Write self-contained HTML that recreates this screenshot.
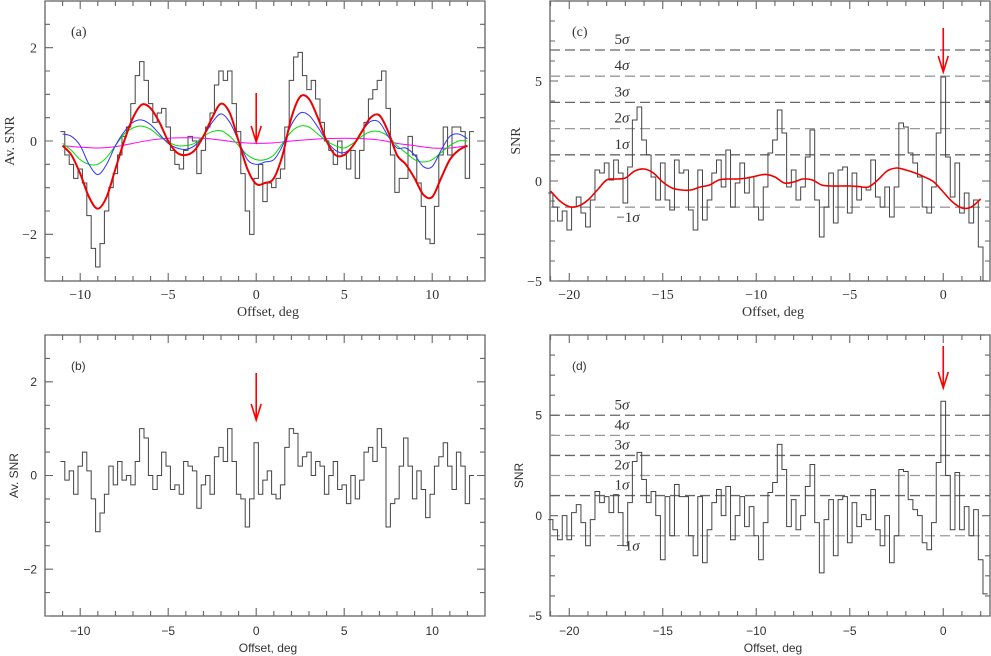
<!DOCTYPE html>
<html><head><meta charset="utf-8"><style>
body{margin:0;background:#fff}
svg{display:block}
.ser{font-family:"Liberation Serif","DejaVu Serif",serif}
.sans{font-family:"Liberation Sans","DejaVu Sans",sans-serif}
</style></head><body>
<svg id="fig" width="991" height="656" viewBox="0 0 991 656" xmlns="http://www.w3.org/2000/svg"></svg>
<script>
// ---------- data ----------
const aX0=-11, aStep=0.25;
const aSeries=[0.2,-0.3,-0.5,-0.8,-0.6,-0.9,-1.6,-2.3,-2.7,-2.2,-1.5,-1.0,-0.7,-0.3,0.1,0.3,0.8,1.4,1.7,1.3,0.8,0.4,0.6,0.7,0.3,-0.2,-0.5,-0.6,-0.2,0.1,0.0,-0.7,-0.2,0.3,0.6,1.2,1.5,1.3,1.5,0.8,0.2,-0.7,-1.5,-2.0,-0.8,-0.5,-1.3,-0.9,-1.0,-0.8,-0.6,0.3,1.3,1.8,1.9,1.4,1.1,1.3,0.9,0.4,0.0,-0.2,-0.5,0.0,-0.3,-0.6,-0.2,-0.8,-0.2,0.4,0.9,1.1,1.3,1.5,0.7,-0.3,-1.1,-0.8,-0.8,0.1,-0.3,-0.9,-1.4,-2.1,-2.2,-1.4,-0.3,0.3,-0.3,0.3,0.3,0.2,-0.8,0.2];
const smX0=-11, smStep=0.5;
const aRed=[-0.1,-0.3,-0.7,-1.2,-1.45,-1.2,-0.6,0.0,0.5,0.78,0.7,0.4,0.0,-0.25,-0.3,-0.2,0.1,0.5,0.8,0.6,0.0,-0.6,-0.92,-0.9,-0.8,-0.3,0.5,0.95,0.9,0.5,0.0,-0.3,-0.3,-0.1,0.2,0.5,0.55,0.2,-0.3,-0.5,-0.8,-1.15,-1.2,-0.8,-0.4,-0.2,-0.1];
const aBlue=[0.15,0.1,-0.1,-0.5,-0.72,-0.5,-0.1,0.2,0.4,0.45,0.35,0.15,-0.05,-0.15,-0.18,-0.1,0.1,0.4,0.58,0.4,0.0,-0.4,-0.5,-0.45,-0.4,-0.1,0.35,0.6,0.55,0.3,0.0,-0.2,-0.25,-0.1,0.2,0.42,0.4,0.1,-0.15,-0.15,-0.3,-0.55,-0.55,-0.2,0.1,0.15,0.05];
const aGreen=[-0.05,-0.2,-0.4,-0.5,-0.5,-0.35,-0.1,0.15,0.28,0.32,0.25,0.1,-0.02,-0.1,-0.1,-0.05,0.1,0.2,0.22,0.1,-0.1,-0.3,-0.4,-0.4,-0.3,-0.05,0.2,0.32,0.3,0.15,0.0,-0.1,-0.15,-0.05,0.1,0.2,0.2,0.1,-0.1,-0.25,-0.4,-0.45,-0.4,-0.25,-0.1,0.0,0.0];
const magX0=-11, magStep=1;
const aMagenta=[-0.1,-0.13,-0.15,-0.12,-0.05,0.02,0.06,0.07,0.06,0.02,-0.03,-0.05,-0.04,0.0,0.03,0.05,0.06,0.05,0.02,-0.05,-0.1,-0.15,-0.15,-0.1];
const bSeries=[0.3,-0.1,0.1,-0.4,0.2,0.5,0.1,-0.5,-1.2,-0.8,-0.4,0.2,-0.2,0.3,-0.1,0.0,-0.2,0.3,1.0,0.8,0.0,-0.3,0.0,0.5,0.2,-0.3,-0.2,-0.4,0.3,0.2,0.1,-0.7,-0.2,0.0,-0.4,0.4,0.6,0.3,1.0,0.3,-0.4,-0.5,-1.1,-0.5,0.7,-0.4,-0.1,0.1,-0.4,-0.5,-0.2,0.6,1.0,0.9,0.2,0.4,0.5,0.0,0.3,0.2,-0.4,0.0,0.3,-0.3,-0.2,-0.6,0.0,-0.5,-0.1,0.5,0.6,0.3,1.0,0.6,-1.1,-0.6,-0.5,0.2,0.8,0.2,-0.5,0.1,-0.3,-0.9,-0.4,0.2,0.4,0.7,0.2,-0.3,0.5,0.2,-0.6,0.0];
const cX0=-21, cStep=0.25;
const cSeries=[-0.6,-1.3,-2.0,-1.5,-2.45,-1.3,-0.8,-1.6,-2.3,-0.95,0.55,0.4,0.9,0.05,1.05,0.4,-1.1,0.7,3.05,3.7,2.05,1.3,0.2,-0.95,0.9,-0.95,-1.45,1.05,0.4,0.55,-1.45,-2.45,0.55,-1.95,-0.95,0.4,1.05,-0.3,1.55,-1.3,-0.1,0.9,-0.6,0.2,-1.3,-1.95,-0.3,1.4,2.05,3.55,2.4,-0.3,0.55,-0.95,-0.3,1.2,2.55,-0.95,-2.8,-1.3,0.4,-2.1,0.55,0.7,-1.6,0.4,-0.95,-0.3,-0.45,1.05,-0.8,-1.3,-0.3,-1.8,-0.3,2.9,2.7,1.4,0.9,0.2,-1.3,-1.6,-0.3,2.4,5.2,1.2,-0.8,0.9,-1.6,-0.6,-2.1,-0.95,-3.3,-5.0];
const cRedX0=-21, cRedStep=0.5;
const cRed=[-0.5,-1.0,-1.28,-1.25,-0.95,-0.45,0.05,0.1,0.15,0.5,0.6,0.4,-0.05,-0.35,-0.45,-0.45,-0.3,-0.2,0.05,0.1,0.1,0.15,0.25,0.33,0.2,-0.1,-0.05,0.1,0.05,-0.2,-0.25,-0.25,-0.25,-0.28,-0.3,0.05,0.5,0.65,0.55,0.4,0.2,-0.05,-0.55,-1.05,-1.35,-1.3,-0.9];
const dSeries=[-0.2,-0.7,-1.2,0,-1.2,0.15,0.55,-0.35,-1.5,-0.2,1.2,0.65,0.95,0.15,1.05,0.15,-1.5,0.65,2.7,3.15,1.8,0.65,1.2,0,-2.2,0.95,-1.0,1.55,0.95,0.95,-1.0,-2.0,0.95,-2.35,-0.7,0.65,1.3,0,1.45,-1.2,0,0.95,-0.55,0.45,-1.0,-2.2,-0.35,1.15,1.65,3.55,2.3,-0.55,0.8,-0.7,0,1.45,2.55,-0.35,-2.85,-0.2,0.8,-2.0,0.8,0.95,-1.35,0.65,-0.55,0.05,-0.2,1.3,-0.7,-1.5,0,-2.35,-1.0,2.3,2.2,0.8,0.3,0,-1.35,-1.7,-0.35,2.65,5.7,2.0,-0.7,2.15,-0.7,0.45,-1.0,0.3,-2.2,-3.9];
const cSigmaNums=["5","4","3","2","1","−1"];
const cSigmaVals=[5,4,3,2,1,-1];
const cSigma=1.31, dSigma=1.0;
const abXTicks=[-10,-5,0,5,10];
const abYTicks=[-2,0,2];
const cdXTicks=[-20,-15,-10,-5,0];
const cdYTicks=[-5,0,5];

// ---------- drawing ----------
const NS="http://www.w3.org/2000/svg";
const svg=document.getElementById('fig');
function el(tag,attrs,parent){const e=document.createElementNS(NS,tag);for(const k in attrs)e.setAttribute(k,attrs[k]);(parent||svg).appendChild(e);return e;}
function txt(s,x,y,cls,size,anchor,parent){const t=el('text',{x:x,y:y,'font-size':size,'text-anchor':anchor||'middle',fill:'#333',class:cls},parent);t.textContent=s;return t;}

function panel(p){
  const g=el('g',{});
  
  
  const sx=v=>p.L+(v-p.xmin)/(p.xmax-p.xmin)*(p.R-p.L);
  const sy=v=>p.B-(v-p.ymin)/(p.ymax-p.ymin)*(p.B-p.T);
  const fr=el('rect',{x:p.L,y:p.T,width:p.R-p.L,height:p.B-p.T,fill:'none',stroke:'#555','stroke-width':1.2},g);
  
  
  let d='';
  for(let v=Math.ceil(p.xmin);v<=p.xmax;v+=1){const x=sx(v);const L=(v%5===0)?8:5;d+=`M${x},${p.B}v${-L}M${x},${p.T}v${L}`;}
  for(let v=Math.ceil(p.ymin/p.yminor)*p.yminor;v<=p.ymax+1e-9;v+=p.yminor){const y=sy(v);const L=(Math.abs(v%p.ymajor)<1e-6)?8:5;d+=`M${p.L},${y}h${L}M${p.R},${y}h${-L}`;}
  el('path',{d:d,stroke:'#666','stroke-width':1.1,fill:'none'},g);
  p.xticks.forEach(v=>{const t=txt(String(v).replace('-','−'),sx(v),p.xlabY,p.cls,p.fs,'middle',g);
    });
  p.yticks.forEach(v=>{const t=txt(String(v).replace('-','−'),p.L-8,sy(v)+p.fs*0.35,p.cls,p.fs,'end',g);
    });
  const xt=txt('Offset, deg',(p.L+p.R)/2+3,p.xtitleY,p.cls,p.fs,'middle',g);
  
  const yt=txt(p.ytitle,0,0,p.cls,p.fs,'middle',g);
  yt.setAttribute('transform',`translate(${p.ytitleX},${(p.T+p.B)/2}) rotate(-90)`);
  
  const pl=txt(p.label,p.L+p.labelDx,p.T+35,p.cls,p.fs,'start',g);
  
  if(p.sigma){
    cSigmaVals.forEach((k,i)=>{const y=sy(k*p.sigma);
      const ln=el('line',{x1:p.L,x2:p.R,y1:y,y2:y,stroke:i%2?'#999':'#666','stroke-width':1.3,'stroke-dasharray':'10,5'},g);
      
      const t=el('text',{x:k<0?p.L+78:p.L+72,y:k<0?y+15:y-6,'font-size':15,'text-anchor':'middle',fill:'#333',class:'ser'},g);
      t.textContent=cSigmaNums[i];
      const s=el('tspan',{'font-style':'italic'},t);s.textContent='σ';
      });
  }
  const ser=p.series,x0=p.x0,st=p.step;
  let sd='';
  ser.forEach((v,i)=>{const x=x0+i*st;const xa=sx(x-st/2),xb=sx(x+st/2),y=sy(Math.max(v,p.ymin));
    sd+=(i===0?`M${xa},${y}`:`L${xa},${y}`)+`L${xb},${y}`;});
  const sp=el('path',{d:sd,stroke:'#444','stroke-width':1,fill:'none'},g);
  
  (p.smooth||[]).forEach(c=>{
    const pts=c.vals.map((v,i)=>[sx(c.x0+i*c.step),sy(v)]);
    let s=`M${pts[0][0]},${pts[0][1]}`;
    for(let i=0;i<pts.length-1;i++){const p0=pts[Math.max(0,i-1)],p1=pts[i],p2=pts[i+1],p3=pts[Math.min(pts.length-1,i+2)];
      s+=`C${p1[0]+(p2[0]-p0[0])/6},${p1[1]+(p2[1]-p0[1])/6} ${p2[0]-(p3[0]-p1[0])/6},${p2[1]-(p3[1]-p1[1])/6} ${p2[0]},${p2[1]}`;}
    const cp=el('path',{d:s,stroke:c.color,'stroke-width':c.w,fill:'none'},g);
    
  });
  const ax=sx(0);
  const ar=el('path',{d:`M${ax},${p.arrow[0]}V${p.arrow[1]}M${ax-5},${p.arrow[1]-16}L${ax},${p.arrow[1]}L${ax+5},${p.arrow[1]-16}`,stroke:'#f00','stroke-width':1.6,fill:'none'},g);
  
}

panel({name:'panel-a',L:45,R:485,T:1,B:281,xmin:-12,xmax:13,ymin:-3,ymax:3,yminor:0.5,ymajor:2,
  xticks:abXTicks,yticks:abYTicks,cls:'ser',fs:14,xlabY:299,xtitleY:316,ytitle:'Av. SNR',ytitleX:14,label:'(a)',labelDx:26,
  series:aSeries,x0:aX0,step:aStep,arrow:[93,142],
  smooth:[{vals:aMagenta,x0:magX0,step:magStep,color:'#f0f',w:1,name:'magenta-fit'},
          {vals:aGreen,x0:smX0,step:smStep,color:'#0d0',w:1,name:'green-fit'},
          {vals:aBlue,x0:smX0,step:smStep,color:'#33f',w:1,name:'blue-fit'},
          {vals:aRed,x0:smX0,step:smStep,color:'#e00',w:2,name:'red-fit'}]});
panel({name:'panel-b',L:45,R:485,T:335,B:616,xmin:-12,xmax:13,ymin:-3,ymax:3,yminor:0.5,ymajor:2,
  xticks:abXTicks,yticks:abYTicks,cls:'sans',fs:12,xlabY:635,xtitleY:652,ytitle:'Av. SNR',ytitleX:18,label:'(b)',labelDx:26,
  series:bSeries,x0:aX0,step:aStep,arrow:[373,420]});
panel({name:'panel-c',L:550,R:990,T:1,B:281,xmin:-21.03,xmax:2.5,ymin:-5,ymax:9,yminor:1,ymajor:5,
  xticks:cdXTicks,yticks:cdYTicks,cls:'ser',fs:14,xlabY:299,xtitleY:316,ytitle:'SNR',ytitleX:520,label:'(c)',labelDx:22,
  series:cSeries,x0:cX0,step:cStep,arrow:[28,72],sigma:cSigma,
  smooth:[{vals:cRed,x0:cRedX0,step:cRedStep,color:'#e00',w:1.6,name:'red-fit'}]});
panel({name:'panel-d',L:550,R:990,T:335,B:616,xmin:-21.03,xmax:2.5,ymin:-5,ymax:9,yminor:1,ymajor:5,
  xticks:cdXTicks,yticks:cdYTicks,cls:'sans',fs:12,xlabY:635,xtitleY:652,ytitle:'SNR',ytitleX:523,label:'(d)',labelDx:22,
  series:dSeries,x0:cX0,step:cStep,arrow:[346,388],sigma:dSigma});
</script>
</body></html>
